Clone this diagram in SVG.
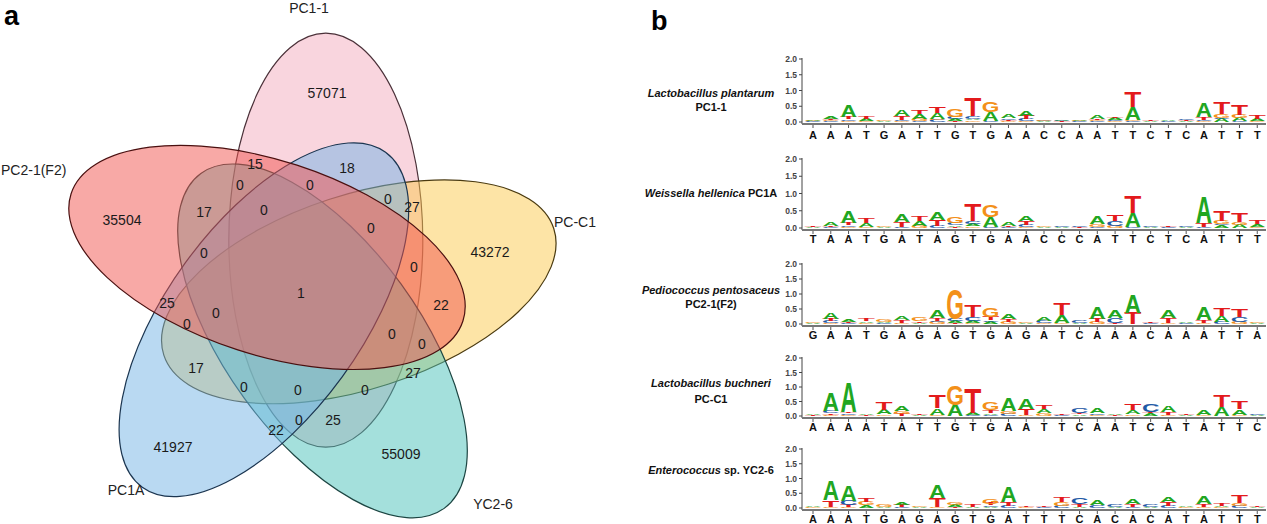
<svg xmlns="http://www.w3.org/2000/svg" width="1267" height="524" viewBox="0 0 1267 524">
<style>
text{font-family:'Liberation Sans',Arial,sans-serif}
.pl{font-size:27px;font-weight:bold;fill:#000}
.vl{font-size:14px;fill:#222;text-anchor:middle}
.vn text{font-size:14px;fill:#1a1a1a;text-anchor:middle}
.set{fill-opacity:.5;stroke-width:1.2}
.sp{font-size:11px;font-weight:bold;text-anchor:middle;fill:#111}
.i{font-style:italic}
.yl{font-size:8.5px;font-weight:bold;fill:#444;text-anchor:end}
.sq{font-size:11px;font-weight:bold;fill:#111;text-anchor:middle}
.axl{stroke:#444;stroke-width:1;fill:none}
.xax{stroke:#777;stroke-width:1.8}
.xt{stroke:#555;stroke-width:3;stroke-dasharray:1 16.77}
.stk text{font-size:14.5px;font-weight:bold;text-anchor:middle}
.a{fill:#21a621}.t{fill:#e31a1c}.g{fill:#f39019}.c{fill:#1f5aa6}
</style>
<rect width="1267" height="524" fill="#fff"/>
<text class="pl" x="4" y="25">a</text>
<text class="pl" x="651" y="30">b</text>
<g id="venn">
<g id="set-PC1-1"><ellipse class="set" cx="325.8" cy="240.2" rx="207" ry="97" transform="rotate(-90 325.8 240.2)" fill="#f3abbd" stroke="#4a3038"/><text class="vl" x="309" y="13">PC1-1</text></g>
<g id="set-PC-C1"><ellipse class="set" cx="358.8" cy="291.8" rx="205" ry="97" transform="rotate(-18 358.8 291.8)" fill="#fbc94d" stroke="#4a3a10"/><text class="vl" x="575" y="227">PC-C1</text></g>
<g id="set-YC2-6"><ellipse class="set" cx="322.5" cy="340.9" rx="207" ry="97" transform="rotate(54 322.5 340.9)" fill="#49c1b9" stroke="#1c4542"/><text class="vl" x="493" y="509">YC2-6</text></g>
<g id="set-PC1A"><ellipse class="set" cx="263.9" cy="319.7" rx="207" ry="97" transform="rotate(126 263.9 319.7)" fill="#73b3e5" stroke="#1b3550"/><text class="vl" x="126" y="495">PC1A</text></g>
<g id="set-PC2-1F2"><ellipse class="set" cx="267" cy="257.4" rx="206" ry="97" transform="rotate(18 267 257.4)" fill="#f1534d" stroke="#4a1010"/><text class="vl" x="1" y="175" style="text-anchor:start">PC2-1(F2)</text></g>
<g id="counts" class="vn">
<text x="327" y="98">57071</text><text x="255" y="169">15</text><text x="347" y="173">18</text>
<text x="240" y="190">0</text><text x="310" y="190">0</text><text x="204" y="217">17</text>
<text x="264" y="215">0</text><text x="388" y="204">0</text><text x="412" y="212">27</text>
<text x="122" y="225">35504</text><text x="371" y="233">0</text><text x="490" y="257">43272</text>
<text x="204" y="258">0</text><text x="414" y="272">0</text><text x="301" y="298">1</text>
<text x="167" y="308">25</text><text x="441" y="310">22</text><text x="216" y="318">0</text>
<text x="187" y="329">0</text><text x="392" y="339">0</text><text x="422" y="349">0</text>
<text x="196" y="373">17</text><text x="413" y="378">27</text><text x="244" y="392">0</text>
<text x="298" y="395">0</text><text x="365" y="395">0</text><text x="299" y="425">0</text>
<text x="333" y="425">25</text><text x="276" y="435">22</text>
<text x="173" y="452">41927</text><text x="401" y="459">55009</text>
</g>
</g>

<g id="logo-plantarum">
<text class="sp" x="711" y="97"><tspan class="i">Lactobacillus plantarum</tspan></text>
<text class="sp" x="711" y="111">PC1-1</text>
<path class="axl" d="M802,58V124M799,59h3M799,74.75h3M799,90.5h3M799,106.25h3M799,122h3"/>
<text class="yl" x="797" y="62">2.0</text><text class="yl" x="797" y="77.75">1.5</text><text class="yl" x="797" y="93.5">1.0</text><text class="yl" x="797" y="109.25">0.5</text><text class="yl" x="797" y="125">0.0</text>
<line class="xax" x1="802" y1="124" x2="1266" y2="124"/><line class="xt" x1="812.5" y1="126.5" x2="1266" y2="126.5"/>
<text class="sq" y="139" x="813 830.8 848.5 866.3 884.1 901.9 919.6 937.4 955.2 972.9 990.7 1008.5 1026.2 1044 1061.8 1079.6 1097.3 1115.1 1132.9 1150.6 1168.4 1186.2 1203.9 1221.7 1239.5 1257.3">AAATGATTGTGAACCAATTCTCATTT</text>
<g class="stk" transform="translate(0,122) scale(1,31.5)">
<text class="c" transform="matrix(1.67 0 0 .002 813 0)">C</text><text class="g" transform="matrix(1.57 0 0 .002 813 -.02)">G</text><text class="a" transform="matrix(1.55 0 0 .003 813 -.04)">A</text>
<text class="c" transform="matrix(1.67 0 0 .003 830.8 0)">C</text><text class="g" transform="matrix(1.57 0 0 .003 830.8 -.03)">G</text><text class="t" transform="matrix(1.93 0 0 .003 830.8 -.06)">T</text><text class="a" transform="matrix(1.55 0 0 .006 830.8 -.09)">A</text>
<text class="g" transform="matrix(1.57 0 0 .003 848.5 0)">G</text><text class="c" transform="matrix(1.67 0 0 .005 848.5 -.03)">C</text><text class="t" transform="matrix(1.93 0 0 .007 848.5 -.08)">T</text><text class="a" transform="matrix(1.55 0 0 .038 848.5 -.15)">A</text>
<text class="g" transform="matrix(1.57 0 0 .003 866.3 0)">G</text><text class="a" transform="matrix(1.55 0 0 .006 866.3 -.03)">A</text><text class="t" transform="matrix(1.93 0 0 .008 866.3 -.09)">T</text>
<text class="a" transform="matrix(1.55 0 0 .002 884.1 0)">A</text><text class="g" transform="matrix(1.57 0 0 .002 884.1 -.02)">G</text>
<text class="g" transform="matrix(1.57 0 0 .003 901.9 0)">G</text><text class="c" transform="matrix(1.67 0 0 .003 901.9 -.03)">C</text><text class="t" transform="matrix(1.93 0 0 .012 901.9 -.06)">T</text><text class="a" transform="matrix(1.55 0 0 .02 901.9 -.18)">A</text>
<text class="c" transform="matrix(1.67 0 0 .003 919.6 0)">C</text><text class="g" transform="matrix(1.57 0 0 .007 919.6 -.03)">G</text><text class="a" transform="matrix(1.55 0 0 .015 919.6 -.1)">A</text><text class="t" transform="matrix(1.93 0 0 .013 919.6 -.25)">T</text>
<text class="c" transform="matrix(1.67 0 0 .006 937.4 0)">C</text><text class="g" transform="matrix(1.57 0 0 .003 937.4 -.06)">G</text><text class="a" transform="matrix(1.55 0 0 .02 937.4 -.09)">A</text><text class="t" transform="matrix(1.93 0 0 .02 937.4 -.29)">T</text>
<text class="t" transform="matrix(1.93 0 0 .003 955.2 0)">T</text><text class="a" transform="matrix(1.55 0 0 .006 955.2 -.03)">A</text><text class="c" transform="matrix(1.67 0 0 .007 955.2 -.09)">C</text><text class="g" transform="matrix(1.57 0 0 .025 955.2 -.16)">G</text>
<text class="g" transform="matrix(1.57 0 0 .005 972.9 0)">G</text><text class="a" transform="matrix(1.55 0 0 .005 972.9 -.05)">A</text><text class="c" transform="matrix(1.67 0 0 .008 972.9 -.1)">C</text><text class="t" transform="matrix(1.93 0 0 .055 972.9 -.18)">T</text>
<text class="c" transform="matrix(1.67 0 0 .003 990.7 0)">C</text><text class="a" transform="matrix(1.55 0 0 .03 990.7 -.03)">A</text><text class="g" transform="matrix(1.57 0 0 .033 990.7 -.33)">G</text>
<text class="g" transform="matrix(1.57 0 0 .003 1008.5 0)">G</text><text class="t" transform="matrix(1.93 0 0 .004 1008.5 -.03)">T</text><text class="c" transform="matrix(1.67 0 0 .005 1008.5 -.07)">C</text><text class="a" transform="matrix(1.55 0 0 .01 1008.5 -.12)">A</text>
<text class="g" transform="matrix(1.57 0 0 .003 1026.2 0)">G</text><text class="c" transform="matrix(1.67 0 0 .006 1026.2 -.03)">C</text><text class="t" transform="matrix(1.93 0 0 .01 1026.2 -.09)">T</text><text class="a" transform="matrix(1.55 0 0 .015 1026.2 -.19)">A</text>
<text class="a" transform="matrix(1.55 0 0 .002 1044 0)">A</text><text class="c" transform="matrix(1.67 0 0 .002 1044 -.02)">C</text><text class="g" transform="matrix(1.57 0 0 .002 1044 -.04)">G</text>
<text class="t" transform="matrix(1.93 0 0 .002 1061.8 0)">T</text><text class="c" transform="matrix(1.67 0 0 .002 1061.8 -.02)">C</text><text class="a" transform="matrix(1.55 0 0 .002 1061.8 -.04)">A</text>
<text class="c" transform="matrix(1.67 0 0 .002 1079.6 0)">C</text><text class="g" transform="matrix(1.57 0 0 .002 1079.6 -.02)">G</text><text class="a" transform="matrix(1.55 0 0 .004 1079.6 -.04)">A</text>
<text class="c" transform="matrix(1.67 0 0 .003 1097.3 0)">C</text><text class="g" transform="matrix(1.57 0 0 .004 1097.3 -.03)">G</text><text class="t" transform="matrix(1.93 0 0 .004 1097.3 -.07)">T</text><text class="a" transform="matrix(1.55 0 0 .012 1097.3 -.11)">A</text>
<text class="g" transform="matrix(1.57 0 0 .003 1115.1 0)">G</text><text class="c" transform="matrix(1.67 0 0 .004 1115.1 -.03)">C</text><text class="a" transform="matrix(1.55 0 0 .006 1115.1 -.07)">A</text><text class="t" transform="matrix(1.93 0 0 .005 1115.1 -.13)">T</text>
<text class="c" transform="matrix(1.67 0 0 .003 1132.9 0)">C</text><text class="g" transform="matrix(1.57 0 0 .002 1132.9 -.03)">G</text><text class="a" transform="matrix(1.55 0 0 .042 1132.9 -.05)">A</text><text class="t" transform="matrix(1.93 0 0 .048 1132.9 -.47)">T</text>
<text class="a" transform="matrix(1.55 0 0 .002 1150.6 0)">A</text><text class="t" transform="matrix(1.93 0 0 .002 1150.6 -.02)">T</text>
<text class="c" transform="matrix(1.67 0 0 .002 1168.4 0)">C</text><text class="a" transform="matrix(1.55 0 0 .002 1168.4 -.02)">A</text>
<text class="a" transform="matrix(1.55 0 0 .003 1186.2 0)">A</text><text class="t" transform="matrix(1.93 0 0 .002 1186.2 -.03)">T</text><text class="c" transform="matrix(1.67 0 0 .003 1186.2 -.05)">C</text>
<text class="g" transform="matrix(1.57 0 0 .003 1203.9 0)">G</text><text class="c" transform="matrix(1.67 0 0 .004 1203.9 -.03)">C</text><text class="t" transform="matrix(1.93 0 0 .008 1203.9 -.07)">T</text><text class="a" transform="matrix(1.55 0 0 .045 1203.9 -.15)">A</text>
<text class="a" transform="matrix(1.55 0 0 .01 1221.7 0)">A</text><text class="c" transform="matrix(1.67 0 0 .003 1221.7 -.1)">C</text><text class="g" transform="matrix(1.57 0 0 .013 1221.7 -.13)">G</text><text class="t" transform="matrix(1.93 0 0 .035 1221.7 -.26)">T</text>
<text class="c" transform="matrix(1.67 0 0 .003 1239.5 0)">C</text><text class="a" transform="matrix(1.55 0 0 .01 1239.5 -.03)">A</text><text class="g" transform="matrix(1.57 0 0 .01 1239.5 -.13)">G</text><text class="t" transform="matrix(1.93 0 0 .032 1239.5 -.23)">T</text>
<text class="g" transform="matrix(1.57 0 0 .004 1257.3 0)">G</text><text class="a" transform="matrix(1.55 0 0 .007 1257.3 -.04)">A</text><text class="t" transform="matrix(1.93 0 0 .01 1257.3 -.11)">T</text>
</g>
</g>

<g id="logo-hellenica">
<text class="sp" x="711" y="197"><tspan class="i">Weissella hellenica</tspan> PC1A</text>
<path class="axl" d="M802,158V230M799,159h3M799,176.25h3M799,193.5h3M799,210.75h3M799,228h3"/>
<text class="yl" x="797" y="162">2.0</text><text class="yl" x="797" y="179.25">1.5</text><text class="yl" x="797" y="196.5">1.0</text><text class="yl" x="797" y="213.75">0.5</text><text class="yl" x="797" y="231">0.0</text>
<line class="xax" x1="802" y1="230" x2="1266" y2="230"/><line class="xt" x1="812.5" y1="232.5" x2="1266" y2="232.5"/>
<text class="sq" y="242.5" x="813 830.8 848.5 866.3 884.1 901.9 919.6 937.4 955.2 972.9 990.7 1008.5 1026.2 1044 1061.8 1079.6 1097.3 1115.1 1132.9 1150.6 1168.4 1186.2 1203.9 1221.7 1239.5 1257.3">TAATGATAGTGAACCCATTCTCATTT</text>
<g class="stk" transform="translate(0,228) scale(1,34.5)">
<text class="a" transform="matrix(1.55 0 0 .002 813 0)">A</text><text class="t" transform="matrix(1.93 0 0 .003 813 -.02)">T</text>
<text class="c" transform="matrix(1.67 0 0 .004 830.8 0)">C</text><text class="t" transform="matrix(1.93 0 0 .003 830.8 -.04)">T</text><text class="a" transform="matrix(1.55 0 0 .009 830.8 -.07)">A</text>
<text class="g" transform="matrix(1.57 0 0 .003 848.5 0)">G</text><text class="c" transform="matrix(1.67 0 0 .005 848.5 -.03)">C</text><text class="t" transform="matrix(1.93 0 0 .006 848.5 -.08)">T</text><text class="a" transform="matrix(1.55 0 0 .033 848.5 -.14)">A</text>
<text class="g" transform="matrix(1.57 0 0 .003 866.3 0)">G</text><text class="a" transform="matrix(1.55 0 0 .012 866.3 -.03)">A</text><text class="t" transform="matrix(1.93 0 0 .013 866.3 -.15)">T</text>
<text class="a" transform="matrix(1.55 0 0 .002 884.1 0)">A</text><text class="g" transform="matrix(1.57 0 0 .002 884.1 -.02)">G</text>
<text class="c" transform="matrix(1.67 0 0 .003 901.9 0)">C</text><text class="t" transform="matrix(1.93 0 0 .013 901.9 -.03)">T</text><text class="a" transform="matrix(1.55 0 0 .02 901.9 -.16)">A</text>
<text class="g" transform="matrix(1.57 0 0 .007 919.6 0)">G</text><text class="a" transform="matrix(1.55 0 0 .013 919.6 -.07)">A</text><text class="t" transform="matrix(1.93 0 0 .014 919.6 -.2)">T</text>
<text class="c" transform="matrix(1.67 0 0 .006 937.4 0)">C</text><text class="t" transform="matrix(1.93 0 0 .017 937.4 -.06)">T</text><text class="a" transform="matrix(1.55 0 0 .023 937.4 -.23)">A</text>
<text class="t" transform="matrix(1.93 0 0 .003 955.2 0)">T</text><text class="a" transform="matrix(1.55 0 0 .005 955.2 -.03)">A</text><text class="c" transform="matrix(1.67 0 0 .007 955.2 -.08)">C</text><text class="g" transform="matrix(1.57 0 0 .019 955.2 -.15)">G</text>
<text class="g" transform="matrix(1.57 0 0 .005 972.9 0)">G</text><text class="a" transform="matrix(1.55 0 0 .006 972.9 -.05)">A</text><text class="c" transform="matrix(1.67 0 0 .008 972.9 -.11)">C</text><text class="t" transform="matrix(1.93 0 0 .048 972.9 -.19)">T</text>
<text class="c" transform="matrix(1.67 0 0 .002 990.7 0)">C</text><text class="a" transform="matrix(1.55 0 0 .03 990.7 -.02)">A</text><text class="g" transform="matrix(1.57 0 0 .032 990.7 -.32)">G</text>
<text class="c" transform="matrix(1.67 0 0 .003 1008.5 0)">C</text><text class="t" transform="matrix(1.93 0 0 .003 1008.5 -.03)">T</text><text class="a" transform="matrix(1.55 0 0 .01 1008.5 -.06)">A</text>
<text class="g" transform="matrix(1.57 0 0 .004 1026.2 0)">G</text><text class="c" transform="matrix(1.67 0 0 .006 1026.2 -.04)">C</text><text class="t" transform="matrix(1.93 0 0 .01 1026.2 -.1)">T</text><text class="a" transform="matrix(1.55 0 0 .014 1026.2 -.2)">A</text>
<text class="a" transform="matrix(1.55 0 0 .002 1044 0)">A</text><text class="g" transform="matrix(1.57 0 0 .002 1044 -.02)">G</text>
<text class="a" transform="matrix(1.55 0 0 .002 1061.8 0)">A</text><text class="c" transform="matrix(1.67 0 0 .003 1061.8 -.02)">C</text>
<text class="t" transform="matrix(1.93 0 0 .002 1079.6 0)">T</text><text class="c" transform="matrix(1.67 0 0 .003 1079.6 -.02)">C</text>
<text class="c" transform="matrix(1.67 0 0 .004 1097.3 0)">C</text><text class="g" transform="matrix(1.57 0 0 .008 1097.3 -.04)">G</text><text class="a" transform="matrix(1.55 0 0 .022 1097.3 -.12)">A</text>
<text class="g" transform="matrix(1.57 0 0 .006 1115.1 0)">G</text><text class="c" transform="matrix(1.67 0 0 .014 1115.1 -.06)">C</text><text class="t" transform="matrix(1.93 0 0 .018 1115.1 -.2)">T</text>
<text class="c" transform="matrix(1.67 0 0 .002 1132.9 0)">C</text><text class="a" transform="matrix(1.55 0 0 .042 1132.9 -.02)">A</text><text class="t" transform="matrix(1.93 0 0 .046 1132.9 -.44)">T</text>
<text class="a" transform="matrix(1.55 0 0 .002 1150.6 0)">A</text><text class="c" transform="matrix(1.67 0 0 .003 1150.6 -.02)">C</text>
<text class="c" transform="matrix(1.67 0 0 .002 1168.4 0)">C</text><text class="t" transform="matrix(1.93 0 0 .003 1168.4 -.02)">T</text>
<text class="a" transform="matrix(1.55 0 0 .002 1186.2 0)">A</text><text class="c" transform="matrix(1.67 0 0 .003 1186.2 -.02)">C</text>
<text class="c" transform="matrix(1.67 0 0 .004 1203.9 0)">C</text><text class="t" transform="matrix(1.93 0 0 .01 1203.9 -.04)">T</text><text class="a" transform="matrix(1.55 0 0 .073 1203.9 -.14)">A</text>
<text class="a" transform="matrix(1.55 0 0 .008 1221.7 0)">A</text><text class="c" transform="matrix(1.67 0 0 .003 1221.7 -.08)">C</text><text class="g" transform="matrix(1.57 0 0 .01 1221.7 -.11)">G</text><text class="t" transform="matrix(1.93 0 0 .03 1221.7 -.21)">T</text>
<text class="a" transform="matrix(1.55 0 0 .01 1239.5 0)">A</text><text class="g" transform="matrix(1.57 0 0 .008 1239.5 -.1)">G</text><text class="t" transform="matrix(1.93 0 0 .027 1239.5 -.18)">T</text>
<text class="g" transform="matrix(1.57 0 0 .004 1257.3 0)">G</text><text class="a" transform="matrix(1.55 0 0 .007 1257.3 -.04)">A</text><text class="t" transform="matrix(1.93 0 0 .012 1257.3 -.11)">T</text>
</g>
</g>

<g id="logo-pentosaceus">
<text class="sp" x="711" y="294"><tspan class="i">Pediococcus pentosaceus</tspan></text>
<text class="sp" x="711" y="308">PC2-1(F2)</text>
<path class="axl" d="M802,263V326M799,264h3M799,279h3M799,294h3M799,309h3M799,324h3"/>
<text class="yl" x="797" y="267">2.0</text><text class="yl" x="797" y="282">1.5</text><text class="yl" x="797" y="297">1.0</text><text class="yl" x="797" y="312">0.5</text><text class="yl" x="797" y="327">0.0</text>
<line class="xax" x1="802" y1="326" x2="1266" y2="326"/><line class="xt" x1="812.5" y1="328.5" x2="1266" y2="328.5"/>
<text class="sq" y="339" x="813 830.8 848.5 866.3 884.1 901.9 919.6 937.4 955.2 972.9 990.7 1008.5 1026.2 1044 1061.8 1079.6 1097.3 1115.1 1132.9 1150.6 1168.4 1186.2 1203.9 1221.7 1239.5 1257.3">GAATGAGAGTGAGATCAAACAAATTA</text>
<g class="stk" transform="translate(0,324) scale(1,30)">
<text class="a" transform="matrix(1.55 0 0 .002 813 0)">A</text><text class="g" transform="matrix(1.57 0 0 .002 813 -.02)">G</text>
<text class="g" transform="matrix(1.57 0 0 .003 830.8 0)">G</text><text class="c" transform="matrix(1.67 0 0 .006 830.8 -.03)">C</text><text class="t" transform="matrix(1.93 0 0 .007 830.8 -.09)">T</text><text class="a" transform="matrix(1.55 0 0 .022 830.8 -.16)">A</text>
<text class="c" transform="matrix(1.67 0 0 .003 848.5 0)">C</text><text class="t" transform="matrix(1.93 0 0 .004 848.5 -.03)">T</text><text class="a" transform="matrix(1.55 0 0 .01 848.5 -.07)">A</text>
<text class="g" transform="matrix(1.57 0 0 .004 866.3 0)">G</text><text class="a" transform="matrix(1.55 0 0 .005 866.3 -.04)">A</text><text class="t" transform="matrix(1.93 0 0 .008 866.3 -.09)">T</text>
<text class="c" transform="matrix(1.67 0 0 .003 884.1 0)">C</text><text class="a" transform="matrix(1.55 0 0 .005 884.1 -.03)">A</text><text class="g" transform="matrix(1.57 0 0 .01 884.1 -.08)">G</text>
<text class="g" transform="matrix(1.57 0 0 .005 901.9 0)">G</text><text class="t" transform="matrix(1.93 0 0 .008 901.9 -.05)">T</text><text class="a" transform="matrix(1.55 0 0 .013 901.9 -.13)">A</text>
<text class="a" transform="matrix(1.55 0 0 .005 919.6 0)">A</text><text class="t" transform="matrix(1.93 0 0 .005 919.6 -.05)">T</text><text class="g" transform="matrix(1.57 0 0 .012 919.6 -.1)">G</text>
<text class="g" transform="matrix(1.57 0 0 .006 937.4 0)">G</text><text class="c" transform="matrix(1.67 0 0 .005 937.4 -.06)">C</text><text class="t" transform="matrix(1.93 0 0 .01 937.4 -.11)">T</text><text class="a" transform="matrix(1.55 0 0 .024 937.4 -.21)">A</text>
<text class="t" transform="matrix(1.93 0 0 .003 955.2 0)">T</text><text class="a" transform="matrix(1.55 0 0 .007 955.2 -.03)">A</text><text class="c" transform="matrix(1.67 0 0 .006 955.2 -.1)">C</text><text class="g" transform="matrix(1.57 0 0 .098 955.2 -.16)">G</text>
<text class="g" transform="matrix(1.57 0 0 .004 972.9 0)">G</text><text class="a" transform="matrix(1.55 0 0 .006 972.9 -.04)">A</text><text class="c" transform="matrix(1.67 0 0 .012 972.9 -.1)">C</text><text class="t" transform="matrix(1.93 0 0 .036 972.9 -.22)">T</text>
<text class="a" transform="matrix(1.55 0 0 .008 990.7 0)">A</text><text class="c" transform="matrix(1.67 0 0 .004 990.7 -.08)">C</text><text class="t" transform="matrix(1.93 0 0 .012 990.7 -.12)">T</text><text class="g" transform="matrix(1.57 0 0 .03 990.7 -.24)">G</text>
<text class="g" transform="matrix(1.57 0 0 .008 1008.5 0)">G</text><text class="t" transform="matrix(1.93 0 0 .008 1008.5 -.08)">T</text><text class="a" transform="matrix(1.55 0 0 .016 1008.5 -.16)">A</text>
<text class="a" transform="matrix(1.55 0 0 .002 1026.2 0)">A</text><text class="g" transform="matrix(1.57 0 0 .002 1026.2 -.02)">G</text>
<text class="g" transform="matrix(1.57 0 0 .003 1044 0)">G</text><text class="c" transform="matrix(1.67 0 0 .007 1044 -.03)">C</text><text class="a" transform="matrix(1.55 0 0 .012 1044 -.1)">A</text>
<text class="g" transform="matrix(1.57 0 0 .004 1061.8 0)">G</text><text class="a" transform="matrix(1.55 0 0 .025 1061.8 -.04)">A</text><text class="t" transform="matrix(1.93 0 0 .04 1061.8 -.29)">T</text>
<text class="a" transform="matrix(1.55 0 0 .003 1079.6 0)">A</text><text class="c" transform="matrix(1.67 0 0 .007 1079.6 -.03)">C</text>
<text class="g" transform="matrix(1.57 0 0 .007 1097.3 0)">G</text><text class="t" transform="matrix(1.93 0 0 .011 1097.3 -.07)">T</text><text class="a" transform="matrix(1.55 0 0 .038 1097.3 -.18)">A</text>
<text class="t" transform="matrix(1.93 0 0 .005 1115.1 0)">T</text><text class="c" transform="matrix(1.67 0 0 .016 1115.1 -.05)">C</text><text class="a" transform="matrix(1.55 0 0 .026 1115.1 -.21)">A</text>
<text class="t" transform="matrix(1.93 0 0 .038 1132.9 0)">T</text><text class="a" transform="matrix(1.55 0 0 .06 1132.9 -.38)">A</text>
<text class="c" transform="matrix(1.67 0 0 .005 1150.6 0)">C</text><text class="t" transform="matrix(1.93 0 0 .005 1150.6 -.05)">T</text>
<text class="g" transform="matrix(1.57 0 0 .005 1168.4 0)">G</text><text class="t" transform="matrix(1.93 0 0 .016 1168.4 -.05)">T</text><text class="a" transform="matrix(1.55 0 0 .024 1168.4 -.21)">A</text>
<text class="c" transform="matrix(1.67 0 0 .002 1186.2 0)">C</text><text class="a" transform="matrix(1.55 0 0 .002 1186.2 -.02)">A</text>
<text class="g" transform="matrix(1.57 0 0 .005 1203.9 0)">G</text><text class="t" transform="matrix(1.93 0 0 .01 1203.9 -.05)">T</text><text class="a" transform="matrix(1.55 0 0 .043 1203.9 -.15)">A</text>
<text class="c" transform="matrix(1.67 0 0 .006 1221.7 0)">C</text><text class="a" transform="matrix(1.55 0 0 .02 1221.7 -.06)">A</text><text class="t" transform="matrix(1.93 0 0 .027 1221.7 -.26)">T</text>
<text class="g" transform="matrix(1.57 0 0 .007 1239.5 0)">G</text><text class="c" transform="matrix(1.67 0 0 .016 1239.5 -.07)">C</text><text class="t" transform="matrix(1.93 0 0 .025 1239.5 -.23)">T</text>
<text class="a" transform="matrix(1.55 0 0 .002 1257.3 0)">A</text><text class="g" transform="matrix(1.57 0 0 .002 1257.3 -.02)">G</text>
</g>
</g>

<g id="logo-buchneri">
<text class="sp" x="711" y="387"><tspan class="i">Lactobacillus buchneri</tspan></text>
<text class="sp" x="711" y="403">PC-C1</text>
<path class="axl" d="M802,357V418M799,358h3M799,372.5h3M799,387h3M799,401.5h3M799,416h3"/>
<text class="yl" x="797" y="361">2.0</text><text class="yl" x="797" y="375.5">1.5</text><text class="yl" x="797" y="390">1.0</text><text class="yl" x="797" y="404.5">0.5</text><text class="yl" x="797" y="419">0.0</text>
<line class="xax" x1="802" y1="418" x2="1266" y2="418"/><line class="xt" x1="812.5" y1="420.5" x2="1266" y2="420.5"/>
<text class="sq" y="431" x="813 830.8 848.5 866.3 884.1 901.9 919.6 937.4 955.2 972.9 990.7 1008.5 1026.2 1044 1061.8 1079.6 1097.3 1115.1 1132.9 1150.6 1168.4 1186.2 1203.9 1221.7 1239.5 1257.3">AAAATATTGTGAATTCAATCATATTC</text>
<g class="stk" transform="translate(0,416) scale(1,29)">
<text class="t" transform="matrix(1.93 0 0 .002 813 0)">T</text><text class="a" transform="matrix(1.55 0 0 .004 813 -.02)">A</text>
<text class="g" transform="matrix(1.57 0 0 .005 830.8 0)">G</text><text class="t" transform="matrix(1.93 0 0 .005 830.8 -.05)">T</text><text class="c" transform="matrix(1.67 0 0 .007 830.8 -.1)">C</text><text class="a" transform="matrix(1.55 0 0 .063 830.8 -.17)">A</text>
<text class="g" transform="matrix(1.57 0 0 .004 848.5 0)">G</text><text class="c" transform="matrix(1.67 0 0 .006 848.5 -.04)">C</text><text class="t" transform="matrix(1.93 0 0 .005 848.5 -.1)">T</text><text class="a" transform="matrix(1.55 0 0 .099 848.5 -.15)">A</text>
<text class="t" transform="matrix(1.93 0 0 .002 866.3 0)">T</text><text class="a" transform="matrix(1.55 0 0 .004 866.3 -.02)">A</text>
<text class="g" transform="matrix(1.57 0 0 .006 884.1 0)">G</text><text class="a" transform="matrix(1.55 0 0 .016 884.1 -.06)">A</text><text class="t" transform="matrix(1.93 0 0 .024 884.1 -.22)">T</text>
<text class="t" transform="matrix(1.93 0 0 .008 901.9 0)">T</text><text class="g" transform="matrix(1.57 0 0 .01 901.9 -.08)">G</text><text class="a" transform="matrix(1.55 0 0 .017 901.9 -.18)">A</text>
<text class="a" transform="matrix(1.55 0 0 .003 919.6 0)">A</text><text class="t" transform="matrix(1.93 0 0 .004 919.6 -.03)">T</text>
<text class="g" transform="matrix(1.57 0 0 .004 937.4 0)">G</text><text class="a" transform="matrix(1.55 0 0 .022 937.4 -.04)">A</text><text class="t" transform="matrix(1.93 0 0 .042 937.4 -.26)">T</text>
<text class="a" transform="matrix(1.55 0 0 .038 955.2 0)">A</text><text class="g" transform="matrix(1.57 0 0 .064 955.2 -.38)">G</text>
<text class="c" transform="matrix(1.67 0 0 .002 972.9 0)">C</text><text class="a" transform="matrix(1.55 0 0 .01 972.9 -.02)">A</text><text class="t" transform="matrix(1.93 0 0 .085 972.9 -.12)">T</text>
<text class="c" transform="matrix(1.67 0 0 .004 990.7 0)">C</text><text class="a" transform="matrix(1.55 0 0 .006 990.7 -.04)">A</text><text class="t" transform="matrix(1.93 0 0 .01 990.7 -.1)">T</text><text class="g" transform="matrix(1.57 0 0 .028 990.7 -.2)">G</text>
<text class="c" transform="matrix(1.67 0 0 .008 1008.5 0)">C</text><text class="g" transform="matrix(1.57 0 0 .01 1008.5 -.08)">G</text><text class="a" transform="matrix(1.55 0 0 .042 1008.5 -.18)">A</text>
<text class="g" transform="matrix(1.57 0 0 .005 1026.2 0)">G</text><text class="t" transform="matrix(1.93 0 0 .02 1026.2 -.05)">T</text><text class="a" transform="matrix(1.55 0 0 .035 1026.2 -.25)">A</text>
<text class="g" transform="matrix(1.57 0 0 .01 1044 0)">G</text><text class="a" transform="matrix(1.55 0 0 .013 1044 -.1)">A</text><text class="t" transform="matrix(1.93 0 0 .014 1044 -.23)">T</text>
<text class="c" transform="matrix(1.67 0 0 .002 1061.8 0)">C</text><text class="t" transform="matrix(1.93 0 0 .003 1061.8 -.02)">T</text>
<text class="a" transform="matrix(1.55 0 0 .006 1079.6 0)">A</text><text class="t" transform="matrix(1.93 0 0 .004 1079.6 -.06)">T</text><text class="c" transform="matrix(1.67 0 0 .018 1079.6 -.1)">C</text>
<text class="g" transform="matrix(1.57 0 0 .004 1097.3 0)">G</text><text class="c" transform="matrix(1.67 0 0 .005 1097.3 -.04)">C</text><text class="a" transform="matrix(1.55 0 0 .018 1097.3 -.09)">A</text>
<text class="t" transform="matrix(1.93 0 0 .002 1115.1 0)">T</text><text class="a" transform="matrix(1.55 0 0 .002 1115.1 -.02)">A</text>
<text class="g" transform="matrix(1.57 0 0 .006 1132.9 0)">G</text><text class="a" transform="matrix(1.55 0 0 .014 1132.9 -.06)">A</text><text class="t" transform="matrix(1.93 0 0 .02 1132.9 -.2)">T</text>
<text class="a" transform="matrix(1.55 0 0 .01 1150.6 0)">A</text><text class="t" transform="matrix(1.93 0 0 .005 1150.6 -.1)">T</text><text class="c" transform="matrix(1.67 0 0 .028 1150.6 -.15)">C</text>
<text class="g" transform="matrix(1.57 0 0 .005 1168.4 0)">G</text><text class="t" transform="matrix(1.93 0 0 .01 1168.4 -.05)">T</text><text class="a" transform="matrix(1.55 0 0 .023 1168.4 -.15)">A</text>
<text class="a" transform="matrix(1.55 0 0 .002 1186.2 0)">A</text><text class="t" transform="matrix(1.93 0 0 .002 1186.2 -.02)">T</text>
<text class="g" transform="matrix(1.57 0 0 .004 1203.9 0)">G</text><text class="a" transform="matrix(1.55 0 0 .017 1203.9 -.04)">A</text>
<text class="a" transform="matrix(1.55 0 0 .03 1221.7 0)">A</text><text class="t" transform="matrix(1.93 0 0 .04 1221.7 -.3)">T</text>
<text class="g" transform="matrix(1.57 0 0 .005 1239.5 0)">G</text><text class="a" transform="matrix(1.55 0 0 .018 1239.5 -.05)">A</text><text class="t" transform="matrix(1.93 0 0 .025 1239.5 -.23)">T</text>
<text class="a" transform="matrix(1.55 0 0 .002 1257.3 0)">A</text><text class="c" transform="matrix(1.67 0 0 .002 1257.3 -.02)">C</text>
</g>
</g>

<g id="logo-enterococcus">
<text class="sp" x="711" y="474"><tspan class="i">Enterococcus</tspan> sp. YC2-6</text>
<path class="axl" d="M802,448V510M799,449h3M799,463.75h3M799,478.5h3M799,493.25h3M799,508h3"/>
<text class="yl" x="797" y="452">2.0</text><text class="yl" x="797" y="466.75">1.5</text><text class="yl" x="797" y="481.5">1.0</text><text class="yl" x="797" y="496.25">0.5</text><text class="yl" x="797" y="511">0.0</text>
<line class="xax" x1="802" y1="510" x2="1266" y2="510"/><line class="xt" x1="812.5" y1="512.5" x2="1266" y2="512.5"/>
<text class="sq" y="523" x="813 830.8 848.5 866.3 884.1 901.9 919.6 937.4 955.2 972.9 990.7 1008.5 1026.2 1044 1061.8 1079.6 1097.3 1115.1 1132.9 1150.6 1168.4 1186.2 1203.9 1221.7 1239.5 1257.3">AAATGAGAGTGATTTCACACATATTT</text>
<g class="stk" transform="translate(0,508) scale(1,29.5)">
<text class="g" transform="matrix(1.57 0 0 .002 813 0)">G</text><text class="a" transform="matrix(1.55 0 0 .002 813 -.02)">A</text>
<text class="g" transform="matrix(1.57 0 0 .005 830.8 0)">G</text><text class="t" transform="matrix(1.93 0 0 .022 830.8 -.05)">T</text><text class="a" transform="matrix(1.55 0 0 .065 830.8 -.27)">A</text>
<text class="g" transform="matrix(1.57 0 0 .003 848.5 0)">G</text><text class="t" transform="matrix(1.93 0 0 .006 848.5 -.03)">T</text><text class="c" transform="matrix(1.67 0 0 .016 848.5 -.09)">C</text><text class="a" transform="matrix(1.55 0 0 .05 848.5 -.25)">A</text>
<text class="a" transform="matrix(1.55 0 0 .01 866.3 0)">A</text><text class="g" transform="matrix(1.57 0 0 .012 866.3 -.1)">G</text><text class="t" transform="matrix(1.93 0 0 .013 866.3 -.22)">T</text>
<text class="a" transform="matrix(1.55 0 0 .002 884.1 0)">A</text><text class="g" transform="matrix(1.57 0 0 .006 884.1 -.02)">G</text>
<text class="c" transform="matrix(1.67 0 0 .003 901.9 0)">C</text><text class="t" transform="matrix(1.93 0 0 .006 901.9 -.03)">T</text><text class="a" transform="matrix(1.55 0 0 .01 901.9 -.09)">A</text>
<text class="a" transform="matrix(1.55 0 0 .002 919.6 0)">A</text><text class="g" transform="matrix(1.57 0 0 .002 919.6 -.02)">G</text>
<text class="g" transform="matrix(1.57 0 0 .004 937.4 0)">G</text><text class="t" transform="matrix(1.93 0 0 .03 937.4 -.04)">T</text><text class="a" transform="matrix(1.55 0 0 .042 937.4 -.34)">A</text>
<text class="t" transform="matrix(1.93 0 0 .002 955.2 0)">T</text><text class="a" transform="matrix(1.55 0 0 .008 955.2 -.02)">A</text><text class="g" transform="matrix(1.57 0 0 .01 955.2 -.1)">G</text>
<text class="a" transform="matrix(1.55 0 0 .004 972.9 0)">A</text><text class="t" transform="matrix(1.93 0 0 .006 972.9 -.04)">T</text>
<text class="a" transform="matrix(1.55 0 0 .004 990.7 0)">A</text><text class="c" transform="matrix(1.67 0 0 .005 990.7 -.04)">C</text><text class="t" transform="matrix(1.93 0 0 .006 990.7 -.09)">T</text><text class="g" transform="matrix(1.57 0 0 .015 990.7 -.15)">G</text>
<text class="c" transform="matrix(1.67 0 0 .008 1008.5 0)">C</text><text class="t" transform="matrix(1.93 0 0 .014 1008.5 -.08)">T</text><text class="a" transform="matrix(1.55 0 0 .052 1008.5 -.22)">A</text>
<text class="g" transform="matrix(1.57 0 0 .002 1026.2 0)">G</text><text class="t" transform="matrix(1.93 0 0 .002 1026.2 -.02)">T</text>
<text class="c" transform="matrix(1.67 0 0 .002 1044 0)">C</text><text class="t" transform="matrix(1.93 0 0 .002 1044 -.02)">T</text>
<text class="c" transform="matrix(1.67 0 0 .006 1061.8 0)">C</text><text class="g" transform="matrix(1.57 0 0 .014 1061.8 -.06)">G</text><text class="t" transform="matrix(1.93 0 0 .015 1061.8 -.2)">T</text>
<text class="a" transform="matrix(1.55 0 0 .004 1079.6 0)">A</text><text class="t" transform="matrix(1.93 0 0 .01 1079.6 -.04)">T</text><text class="c" transform="matrix(1.67 0 0 .02 1079.6 -.14)">C</text>
<text class="c" transform="matrix(1.67 0 0 .01 1097.3 0)">C</text><text class="a" transform="matrix(1.55 0 0 .018 1097.3 -.1)">A</text>
<text class="a" transform="matrix(1.55 0 0 .003 1115.1 0)">A</text><text class="c" transform="matrix(1.67 0 0 .006 1115.1 -.03)">C</text>
<text class="c" transform="matrix(1.67 0 0 .003 1132.9 0)">C</text><text class="t" transform="matrix(1.93 0 0 .01 1132.9 -.03)">T</text><text class="a" transform="matrix(1.55 0 0 .017 1132.9 -.13)">A</text>
<text class="a" transform="matrix(1.55 0 0 .003 1150.6 0)">A</text><text class="c" transform="matrix(1.67 0 0 .006 1150.6 -.03)">C</text>
<text class="c" transform="matrix(1.67 0 0 .008 1168.4 0)">C</text><text class="t" transform="matrix(1.93 0 0 .012 1168.4 -.08)">T</text><text class="a" transform="matrix(1.55 0 0 .018 1168.4 -.2)">A</text>
<text class="g" transform="matrix(1.57 0 0 .002 1186.2 0)">G</text><text class="a" transform="matrix(1.55 0 0 .002 1186.2 -.02)">A</text>
<text class="g" transform="matrix(1.57 0 0 .005 1203.9 0)">G</text><text class="t" transform="matrix(1.93 0 0 .008 1203.9 -.05)">T</text><text class="a" transform="matrix(1.55 0 0 .026 1203.9 -.13)">A</text>
<text class="g" transform="matrix(1.57 0 0 .003 1221.7 0)">G</text><text class="a" transform="matrix(1.55 0 0 .004 1221.7 -.03)">A</text><text class="t" transform="matrix(1.93 0 0 .01 1221.7 -.07)">T</text>
<text class="c" transform="matrix(1.67 0 0 .006 1239.5 0)">C</text><text class="g" transform="matrix(1.57 0 0 .01 1239.5 -.06)">G</text><text class="t" transform="matrix(1.93 0 0 .024 1239.5 -.16)">T</text>
<text class="a" transform="matrix(1.55 0 0 .002 1257.3 0)">A</text><text class="t" transform="matrix(1.93 0 0 .002 1257.3 -.02)">T</text>
</g>
</g>
</svg>
